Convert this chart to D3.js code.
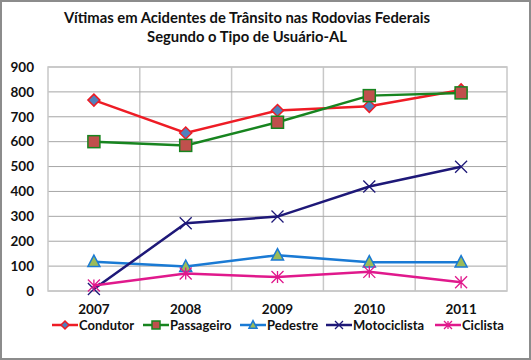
<!DOCTYPE html>
<html>
<head>
<meta charset="utf-8">
<script src="https://cdn.jsdelivr.net/npm/d3@7"></script>
<style>
  body { margin: 0; background: #fff; }
  svg { display: block; font-family: Lato, "Open Sans", sans-serif; }
</style>
</head>
<body>
<div id="chart"></div>
<script>
// Data
var years = ["2007", "2008", "2009", "2010", "2011"];
var condutor = [767, 635, 725, 742, 808];
var passageiro = [600, 585, 678, 785, 796];
var pedestre = [118, 98, 144, 116, 116];
var motociclista = [8, 272, 299, 420, 499];
var ciclista = [22, 70, 56, 77, 35];
var yTicks = [0, 100, 200, 300, 400, 500, 600, 700, 800, 900];

var seriesNames = ["Condutor", "Passageiro", "Pedestre", "Motociclista", "Ciclista"];
var seriesValues = [condutor, passageiro, pedestre, motociclista, ciclista];

var styles = {
    Condutor: {line: "#ee1c25", marker: "diamond", fill: "#4f81bd", stroke: "#ee1c25"},
    Passageiro: {line: "#17841f", marker: "square", fill: "#c0504d", stroke: "#17841f"},
    Pedestre: {line: "#1a7ad4", marker: "triangle", fill: "#9bbb59", stroke: "#1a7ad4"},
    Motociclista: {line: "#1e1878", marker: "x", fill: "none", stroke: "#1e1878"},
    Ciclista: {line: "#e0198c", marker: "star", fill: "none", stroke: "#e0198c"}
};

var W = 531, H = 360;
var plot = {left: 48, right: 507, top: 67, bottom: 291};

var svg = d3.select("#chart").append("svg")
    .attr("width", W)
    .attr("height", H);

// outer frame
svg.append("rect")
    .attr("x", 1).attr("y", 1)
    .attr("width", W - 2).attr("height", H - 2)
    .attr("fill", "#fff")
    .attr("stroke", "#8c8c8c")
    .attr("stroke-width", 2);

// title
var title = svg.append("text")
    .attr("text-anchor", "middle")
    .attr("font-weight", "bold")
    .attr("font-size", 14.8)
    .attr("fill", "#111");
title.append("tspan").attr("x", 247).attr("y", 23).text("Vítimas em Acidentes de Trânsito nas Rodovias Federais");
title.append("tspan").attr("x", 247).attr("y", 42).text("Segundo o Tipo de Usuário-AL");

// scales
var x = d3.scaleBand()
    .domain(years)
    .range([plot.left, plot.right]);

var y = d3.scaleLinear()
    .domain([0, 900])
    .range([plot.bottom, plot.top]);

var g = svg.append("g");

// vertical grid (between categories)
g.selectAll(".vgrid")
    .data(years.slice(1))
    .enter().append("line")
    .attr("class", "vgrid")
    .attr("x1", function(d) { return x(d); })
    .attr("x2", function(d) { return x(d); })
    .attr("y1", plot.top)
    .attr("y2", plot.bottom)
    .attr("stroke", "#c8c8c8")
    .attr("stroke-width", 1.5);

// horizontal grid
g.selectAll(".hgrid")
    .data(yTicks)
    .enter().append("line")
    .attr("class", "hgrid")
    .attr("x1", plot.left)
    .attr("x2", plot.right)
    .attr("y1", function(d) { return y(d); })
    .attr("y2", function(d) { return y(d); })
    .attr("stroke", "#a6a6a6")
    .attr("stroke-width", 1);

// plot border
g.append("rect")
    .attr("x", plot.left).attr("y", plot.top)
    .attr("width", plot.right - plot.left)
    .attr("height", plot.bottom - plot.top)
    .attr("fill", "none")
    .attr("stroke", "#c8c8c8")
    .attr("stroke-width", 1.5);

// y axis labels
var yAxis = svg.append("g")
    .attr("transform", "translate(" + plot.left + ",0)")
    .call(d3.axisLeft(y).tickValues(yTicks).tickSize(0).tickPadding(14));
yAxis.select(".domain").remove();
yAxis.selectAll("text")
    .attr("font-family", "Lato, sans-serif")
    .attr("font-weight", "bold")
    .attr("font-size", 13.5)
    .attr("fill", "#111");

// x axis labels
var xAxis = svg.append("g")
    .attr("transform", "translate(0," + plot.bottom + ")")
    .call(d3.axisBottom(x).tickSize(0).tickPadding(13));
xAxis.select(".domain").remove();
xAxis.selectAll("text")
    .attr("font-family", "Lato, sans-serif")
    .attr("font-weight", "bold")
    .attr("font-size", 13.5)
    .attr("fill", "#111");

// marker drawing
function drawMarker(sel, type, s, size) {
    var r = size;
    if (type === "diamond") {
        sel.append("path")
            .attr("d", "M0," + (-r) + "L" + r + ",0L0," + r + "L" + (-r) + ",0Z")
            .attr("fill", s.fill).attr("stroke", s.stroke).attr("stroke-width", 1.5);
    } else if (type === "square") {
        sel.append("rect")
            .attr("x", -r).attr("y", -r).attr("width", 2 * r).attr("height", 2 * r)
            .attr("fill", s.fill).attr("stroke", s.stroke).attr("stroke-width", 1.5);
    } else if (type === "triangle") {
        sel.append("path")
            .attr("d", "M0," + (-r * 1.1) + "L" + r + "," + (r * 0.8) + "L" + (-r) + "," + (r * 0.8) + "Z")
            .attr("fill", s.fill).attr("stroke", s.stroke).attr("stroke-width", 1.5);
    } else if (type === "x") {
        sel.append("path")
            .attr("d", "M" + (-r) + "," + (-r) + "L" + r + "," + r + "M" + r + "," + (-r) + "L" + (-r) + "," + r)
            .attr("stroke", s.stroke).attr("stroke-width", 1.3).attr("fill", "none");
    } else if (type === "star") {
        sel.append("path")
            .attr("d", "M" + (-r) + "," + (-r) + "L" + r + "," + r + "M" + r + "," + (-r) + "L" + (-r) + "," + r + "M0," + (-r) + "L0," + r)
            .attr("stroke", s.stroke).attr("stroke-width", 1.3).attr("fill", "none");
    }
}

var line = d3.line()
    .x(function(d, i) { return x(years[i]) + x.bandwidth() / 2; })
    .y(function(d) { return y(d); });

seriesNames.forEach(function(name, k) {
    var s = styles[name];
    var vals = seriesValues[k];
    var sg = svg.append("g").attr("class", "series");

    sg.append("path")
        .datum(vals)
        .attr("d", line)
        .attr("fill", "none")
        .attr("stroke", s.line)
        .attr("stroke-width", 2.5);

    sg.selectAll(".pt")
        .data(vals)
        .enter().append("g")
        .attr("class", "pt")
        .attr("transform", function(d, i) {
            return "translate(" + (x(years[i]) + x.bandwidth() / 2) + "," + y(d) + ")";
        })
        .each(function() { drawMarker(d3.select(this), s.marker, s, 6); });
});

// legend
var legendX = [52, 143, 240, 326, 435];
var legend = svg.append("g").attr("transform", "translate(0,325)");
seriesNames.forEach(function(name, k) {
    var s = styles[name];
    var lg = legend.append("g").attr("transform", "translate(" + legendX[k] + ",0)");
    lg.append("line")
        .attr("x1", 0).attr("x2", 26)
        .attr("stroke", s.line).attr("stroke-width", 2.5);
    var m = lg.append("g").attr("transform", "translate(13,0)");
    drawMarker(m, s.marker, s, 4);
    lg.append("text")
        .attr("x", 27).attr("y", 5)
        .attr("font-weight", "bold")
        .attr("font-size", 13)
        .attr("fill", "#111")
        .text(name);
});
</script>
</body>
</html>
